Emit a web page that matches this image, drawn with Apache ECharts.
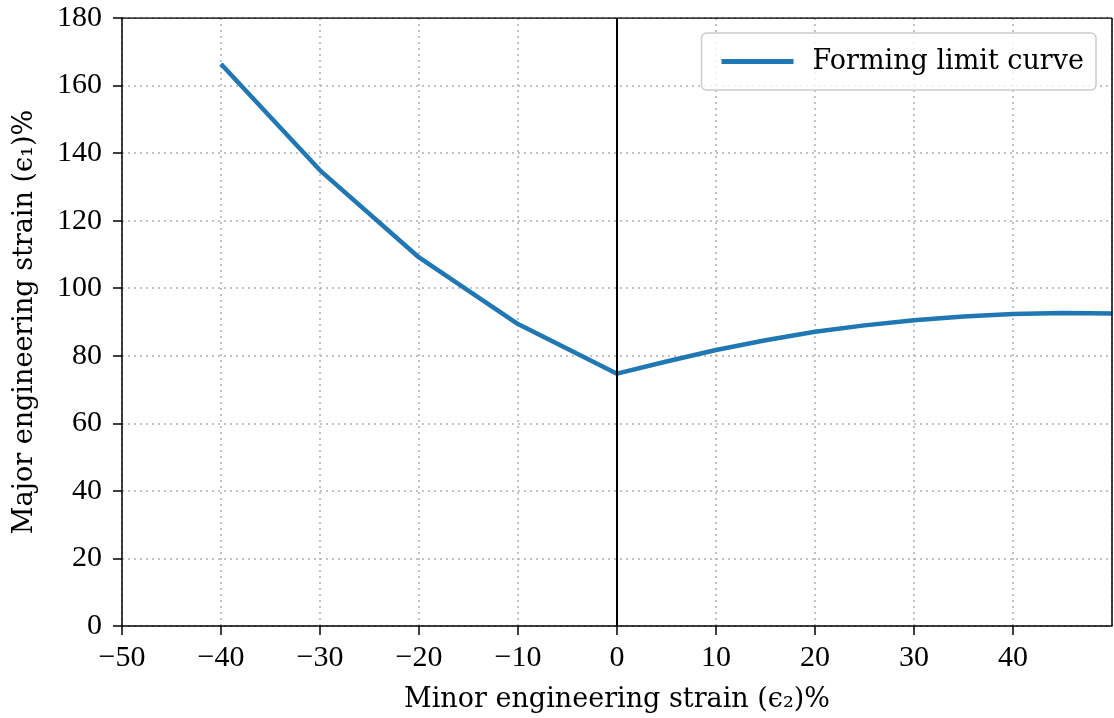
<!DOCTYPE html>
<html><head><meta charset="utf-8">
<script src="https://cdn.jsdelivr.net/npm/echarts@6/dist/echarts.min.js"></script>
<style>html,body{margin:0;padding:0;background:#fff}#c{width:1114px;height:718px}</style>
</head><body><div id="c"></div>
<script>
const minorStrain = [-40, -30, -20, -10, 0, 5, 10, 15, 20, 25, 30, 35, 40, 45, 50];
const majorStrain = [166.4, 134.9, 109.1, 89.4, 74.7, 78.3, 81.7, 84.6, 87.1, 89.0, 90.5, 91.6, 92.4, 92.7, 92.5];
const seriesName = 'Forming limit curve';
const xTitle = 'Minor engineering strain (\u03F5\u2082)%';
const yTitle = 'Major engineering strain (\u03F5\u2081)%';

const tickFont = 'Liberation Serif';
const titleFont = 'DejaVu Serif';
const chart = echarts.init(document.getElementById('c'));
chart.setOption({
  animation: false,
  grid: { left: 122, right: 2, top: 18, bottom: 90.5, show: false },
  legend: {
    show: true, right: 18, top: 33, icon: 'rect', itemWidth: 72, itemHeight: 5, itemGap: 10,
    padding: [15, 12, 15, 20], borderColor: '#cccccc', borderWidth: 1.5, borderRadius: 5,
    backgroundColor: 'rgba(255,255,255,0.8)',
    textStyle: { fontFamily: titleFont, fontSize: 27, color: '#000', padding: [0, 0, 0, 14] },
    data: [seriesName]
  },
  xAxis: {
    type: 'value', min: -50, max: 50, interval: 10,
    name: xTitle, nameLocation: 'middle', nameGap: 60,
    nameTextStyle: { fontFamily: titleFont, fontSize: 27, color: '#000' },
    axisLine: { show: true, onZero: false, lineStyle: { color: '#000', width: 1.5 } },
    axisTick: { show: true, length: 9, lineStyle: { color: '#000', width: 1.5 } },
    axisLabel: { showMaxLabel: false, fontFamily: tickFont, fontSize: 30, color: '#000', margin: 17,
      formatter: v => (v < 0 ? '\u2212' + Math.abs(v) : '' + v) },
    splitLine: { show: true, lineStyle: { color: '#b0b0b0', type: [2, 4], width: 1.5 } }
  },
  yAxis: {
    type: 'value', min: 0, max: 180, interval: 20,
    name: yTitle, nameLocation: 'middle', nameGap: 84, nameRotate: 90,
    nameTextStyle: { fontFamily: titleFont, fontSize: 27, color: '#000' },
    axisLine: { show: true, onZero: false, lineStyle: { color: '#000', width: 1.5 } },
    axisTick: { show: true, length: 9, lineStyle: { color: '#000', width: 1.5 } },
    axisLabel: { fontFamily: tickFont, fontSize: 30, color: '#000', margin: 20 },
    splitLine: { show: true, lineStyle: { color: '#b0b0b0', type: [2, 4], width: 1.5 } }
  },
  series: [
    { type: 'line', name: seriesName, data: minorStrain.map((x, i) => [x, majorStrain[i]]),
      showSymbol: false, symbol: 'none', lineStyle: { color: '#1f77b4', width: 4.5 }, itemStyle: { color: '#1f77b4' },
      markLine: { silent: true, symbol: 'none', label: { show: false },
        lineStyle: { color: '#000', width: 2, type: 'solid' }, data: [{ xAxis: 0 }] } },
    { type: 'line', data: [[50, 0], [50, 180]], symbol: 'none', silent: true,
      lineStyle: { color: '#000', width: 1.5 } },
    { type: 'line', data: [[-50, 180], [50, 180]], symbol: 'none', silent: true,
      lineStyle: { color: '#000', width: 1.5 } }
  ]
});
</script></body></html>
